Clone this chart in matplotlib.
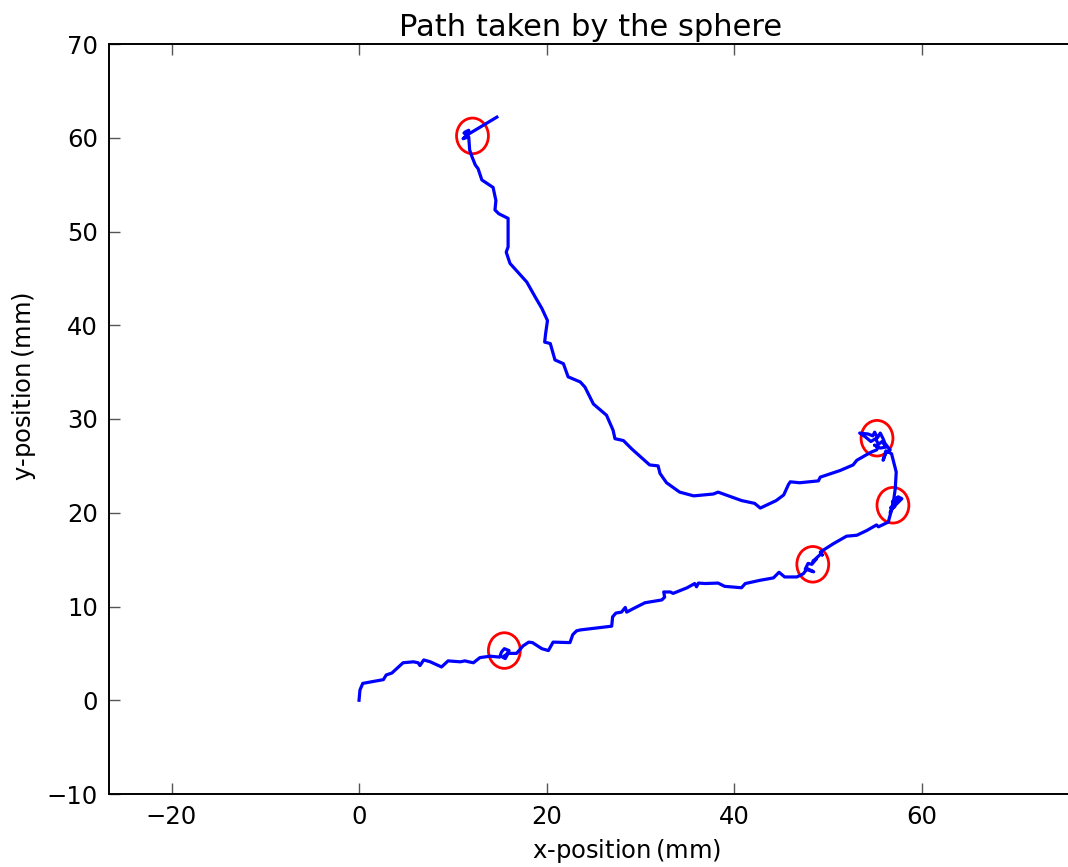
import matplotlib
matplotlib.use('Agg')
import matplotlib.pyplot as plt
from matplotlib.patches import Ellipse

# Path of the sphere (mm)
path_x = [0.0, 0.1, 0.4, 2.6, 2.9, 3.5, 4.7, 5.8, 6.3, 6.5, 6.9, 7.6, 8.8, 9.5, 10.8, 11.3, 11.7,
          12.2, 12.9, 14.0, 15.0, 15.2, 15.5, 16.0, 15.75, 15.3, 15.6, 15.9, 16.8, 17.5, 18.1, 18.5,
          19.5, 20.2, 20.7, 22.5, 22.8, 23.2, 23.6, 26.95, 27.05, 27.4, 28.0, 28.4, 28.55, 29.3,
          30.5, 32.3, 32.6, 32.5, 33.2, 33.5, 35.0, 35.8, 36.0, 36.2, 36.9, 38.3, 39.0, 40.8,
          41.2, 42.8, 44.2, 44.8, 45.4, 46.7, 47.4, 47.8, 48.5, 47.6, 47.9, 48.3, 48.8, 48.4,
          49.3, 49.4, 49.2, 49.5, 50.6, 52.0, 53.1, 54.15, 55.2, 55.4, 56.45, 56.8, 56.65, 57.0,
          56.7, 57.3, 57.5, 57.9, 57.4, 57.6, 57.1, 56.9, 57.4, 56.9, 57.2, 57.3, 56.8, 56.2,
          55.9, 56.2, 56.65, 56.1, 55.9, 55.6, 55.3, 55.0, 54.8, 54.3, 53.4, 54.0, 54.6, 55.1,
          55.4, 55.8, 56.2, 55.6, 55.0, 55.4, 55.2, 54.7, 54.5, 53.1, 52.7, 51.3, 49.2, 49.0,
          47.0, 46.0, 45.8, 45.3, 44.5, 42.8, 42.2, 40.8, 38.3, 37.8, 35.7, 34.2, 32.8, 32.1,
          31.9, 31.0, 30.0, 29.1, 28.2, 27.3, 27.1, 26.4, 25.0, 24.1, 23.6, 22.3, 21.8, 20.9,
          20.4, 19.8, 19.9, 20.1, 19.5, 18.8, 17.9, 17.0, 16.1, 15.7, 15.9, 15.9, 14.9, 14.5,
          14.6, 14.3, 13.1, 12.7, 12.4, 12.0, 11.8, 11.7, 11.1, 11.5, 11.2, 11.3, 11.7, 11.7,
          12.2, 14.7]
path_y = [0.0, 1.1, 1.8, 2.2, 2.7, 2.9, 4.0, 4.1, 4.0, 3.7, 4.3, 4.1, 3.55, 4.2, 4.1, 4.2, 4.1,
          4.0, 4.55, 4.7, 4.6, 5.15, 5.5, 5.3, 4.9, 4.6, 4.45, 5.0, 5.0, 5.8, 6.2, 6.15,
          5.5, 5.3, 6.2, 6.15, 7.0, 7.4, 7.5, 7.9, 8.9, 9.3, 9.4, 9.9, 9.4, 9.8,
          10.4, 10.7, 11.0, 11.55, 11.55, 11.4, 12.0, 12.45, 12.1, 12.5, 12.45, 12.5, 12.15, 12.0,
          12.45, 12.8, 13.05, 13.65, 13.15, 13.15, 13.5, 14.05, 13.7, 14.0, 14.6, 14.5, 15.1, 14.8,
          15.65, 15.5, 15.8, 16.0, 16.7, 17.5, 17.6, 18.1, 18.7, 18.5, 19.0, 20.3, 20.0, 20.8,
          20.5, 21.2, 21.7, 21.5, 21.0, 21.4, 20.6, 21.2, 21.6, 20.4, 22.6, 24.35, 26.3, 26.6,
          25.6, 26.4, 26.7, 27.4, 27.9, 28.5, 28.0, 28.6, 28.2, 28.4, 28.5, 28.1, 27.6, 27.9,
          27.3, 27.6, 27.0, 26.9, 27.2, 27.0, 26.7, 26.5, 26.4, 25.6, 25.1, 24.5, 23.8, 23.4,
          23.2, 23.3, 23.0, 21.9, 21.3, 20.5, 21.0, 21.3, 22.2, 22.0, 21.8, 22.2, 23.2, 24.2,
          25.0, 25.1, 26.0, 26.8, 27.7, 27.9, 28.8, 30.4, 31.6, 33.4, 33.95, 34.5, 35.9, 36.3,
          38.05, 38.2, 39.1, 40.5, 41.8, 43.0, 44.6, 45.6, 46.6, 47.8, 48.35, 51.4, 51.9, 52.3,
          53.3, 54.7, 55.5, 56.7, 57.1, 58.1, 58.7, 60.1, 59.9, 60.3, 60.5, 60.6, 60.8, 60.4,
          60.7, 62.2]

# Places where the sphere stopped
stop_x = [12.1, 55.25, 56.95, 48.4, 15.5]
stop_y = [60.2, 27.95, 20.8, 14.5, 5.3]

plt.rcParams['font.family'] = 'DejaVu Sans'

fig = plt.figure(figsize=(10.68, 8.67), dpi=100)
ax = fig.add_axes([109 / 1068, 73 / 867, (1072 - 109) / 1068, 750 / 867])

ax.plot(path_x, path_y, color='blue', linewidth=2.3)
for cx, cy in zip(stop_x, stop_y):
    ax.add_patch(Ellipse((cx, cy), 3.4, 3.8, fill=False, edgecolor='red', linewidth=2.0))

ax.set_xlim(-26.67, 76.05)
ax.set_ylim(-10, 70)
ax.set_xticks([-20, 0, 20, 40, 60])
ax.set_yticks(range(-10, 71, 10))
ax.tick_params(direction='in', length=8, width=1, color='#555555', labelsize=17.5,
               top=True, right=False, pad=8)
ax.spines['right'].set_visible(False)
for s in ['left', 'top', 'bottom']:
    ax.spines[s].set_linewidth(1.4)

ax.set_title('Path taken by the sphere', fontsize=22, pad=6)
ax.set_xlabel('x-position$\\,$(mm)', fontsize=17.5)
ax.set_ylabel('y-position$\\,$(mm)', fontsize=17.5)
ax.xaxis.set_label_coords(0.537, -0.057)
ax.yaxis.set_label_coords(-0.074, 0.543)

fig.savefig('out.png', dpi=100, facecolor='white')
